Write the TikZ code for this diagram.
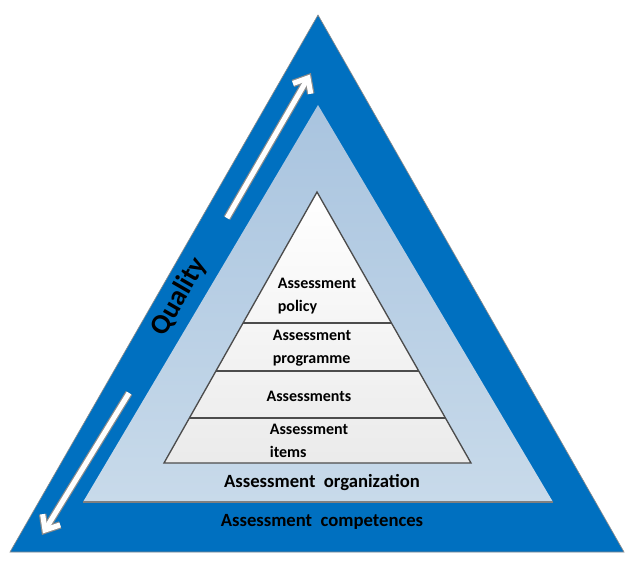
\documentclass[tikz,border=0pt]{standalone}
\usepackage{fontspec}
\setmainfont{Carlito}
\usetikzlibrary{calc, positioning}
\definecolor{outerblue}{HTML}{0070C0}
\definecolor{midtop}{HTML}{A9C4DF}
\definecolor{midbottom}{HTML}{C8DAEA}
\tikzstyle{layer} = [
  font=\fontsize{12}{17}\selectfont\bfseries,
  align=left,
  inner sep=0
]
\tikzstyle{ring} = [
  font=\fontsize{14}{17}\selectfont\bfseries,
  inner sep=0
]
\tikzstyle{rim} = [
  draw=black!45,
  line width=5.6pt,
  line join=miter
]
\tikzstyle{core} = [
  draw=white,
  line width=3.8pt,
  line join=miter
]

\begin{document}
\begin{tikzpicture}[x=0.75pt, y=-0.75pt, node distance=37.5pt]

    \useasboundingbox (0,0) rectangle (634,567);

    % outer band
    \draw [fill=outerblue, draw=black!45, line width=0.5pt] (318,15) -- (624,552) -- (10,552) -- cycle;
    % middle band
    \shade [top color=midtop, bottom color=midbottom] (318,105) -- (553,502) -- (83,502) -- cycle;
    \draw [draw=black!50, line width=0.8pt] (83,502) -- (553,502);
    % inner pyramid
    \coordinate (apex) at (317,192);
    \coordinate (baseleft) at (164,463);
    \coordinate (baseright) at (471,463);
    \shade [top color=white, bottom color=black!8] (apex) -- (baseright) -- (baseleft) -- cycle;
    \foreach \t in {0.483, 0.661, 0.834} {
      \draw [draw=black!70, line width=1pt] ($(apex)!\t!(baseleft)$) -- ($(apex)!\t!(baseright)$);
    }
    \draw [draw=black!70, line width=1pt] (apex) -- (baseright) -- (baseleft) -- cycle;

    % quality arrows
    \coordinate (uptail) at (227,218);
    \coordinate (uptip) at (308,78);
    \coordinate (downtail) at (129,393);
    \coordinate (downtip) at (45,530);
    \foreach \s in {rim, core} {
      \draw [\s] (uptail) -- (uptip);
      \draw [\s] ($(uptip)!12pt!40:(uptail)$) -- (uptip) -- ($(uptip)!12pt!-40:(uptail)$);
      \draw [\s] (downtail) -- (downtip);
      \draw [\s] ($(downtip)!12pt!40:(downtail)$) -- (downtip) -- ($(downtip)!12pt!-40:(downtail)$);
    }

    \node (quality) [font=\fontsize{21}{24}\selectfont\bfseries, rotate=60] at (179,297) {Quality};

    \node (policy) [layer] at (317,296) {Assessment\\policy};
    \node (programme) [layer, below of=policy, xshift=-3.75pt, yshift=-1.5pt] {Assessment\\programme};
    \node (assessments) [layer, below of=programme, xshift=-2.25pt, yshift=1.1pt] {Assessments};
    \node (items) [layer, below of=assessments, yshift=4.5pt] {Assessment\\items};

    \node (organization) [ring] at (322,483) {Assessment\ \ organization};
    \node (competences) [ring, below of=organization, yshift=8.25pt] {Assessment\ \ competences};

  \end{tikzpicture}
\end{document}
